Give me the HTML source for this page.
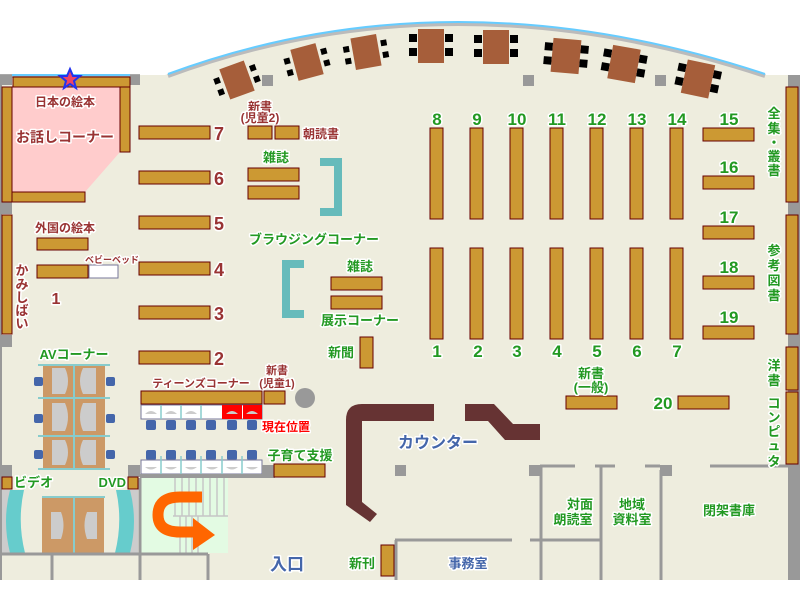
<!DOCTYPE html>
<html><head><meta charset="utf-8"><style>
html,body{margin:0;padding:0;background:#fff;}
svg{display:block;}
text{font-family:"Liberation Sans","Noto Sans CJK JP",sans-serif;font-weight:bold;paint-order:stroke;stroke:#fff;stroke-width:3px;stroke-linejoin:round;}
.r{fill:#993333;font-size:12px;}
.rn{fill:#993333;font-size:18px;}
.g{fill:#229922;font-size:13px;}
.gn{fill:#229922;font-size:17px;}
.b{fill:#4466aa;}
.sh{fill:#cc9933;stroke:#660000;stroke-width:1;}
.w{fill:#999;}
.wl{stroke:#999;stroke-width:3;fill:none;}
</style></head><body>
<svg width="800" height="600" viewBox="0 0 800 600" xmlns="http://www.w3.org/2000/svg">
<path d="M0,75 L165,75 Q450,-30 765,75 L800,75 L800,580 L0,580 Z" fill="#eeedde"/>
<path d="M168,76 Q450,-28 765,76" fill="none" stroke="#bbb" stroke-width="4"/>
<path d="M168,74 Q450,-30 765,74" fill="none" stroke="#66ccff" stroke-width="2"/>
<rect x="0" y="74" width="140" height="4" fill="#aaa"/>
<rect x="12" y="74" width="118" height="2" fill="#66ccff"/>
<rect x="0" y="75" width="12" height="10" class="w"/>
<rect x="130" y="75" width="10" height="10" class="w"/>
<rect x="0" y="85" width="2" height="495" class="w"/>
<rect x="0" y="202" width="12" height="12" class="w"/>
<rect x="0" y="335" width="12" height="12" class="w"/>
<rect x="788" y="75" width="12" height="505" class="w"/>
<rect x="262" y="75" width="11" height="11" class="w"/>
<rect x="523" y="75" width="11" height="11" class="w"/>
<rect x="655" y="75" width="11" height="11" class="w"/>
<g fill="#a65e3a">
<g transform="translate(237,80) rotate(-20)"><rect x="-22" y="-9" width="6" height="6" fill="#000"/><rect x="-22" y="3" width="6" height="6" fill="#000"/><rect x="16" y="-9" width="6" height="6" fill="#000"/><rect x="16" y="3" width="6" height="6" fill="#000"/><rect x="-13" y="-16" width="26" height="32"/></g>
<g transform="translate(307,62) rotate(-15)"><rect x="-22" y="-9" width="6" height="6" fill="#000"/><rect x="-22" y="3" width="6" height="6" fill="#000"/><rect x="16" y="-9" width="6" height="6" fill="#000"/><rect x="16" y="3" width="6" height="6" fill="#000"/><rect x="-13" y="-16" width="26" height="32"/></g>
<g transform="translate(366,52) rotate(-10)"><rect x="-22" y="-9" width="6" height="6" fill="#000"/><rect x="-22" y="3" width="6" height="6" fill="#000"/><rect x="16" y="-9" width="6" height="6" fill="#000"/><rect x="16" y="3" width="6" height="6" fill="#000"/><rect x="-13" y="-16" width="26" height="32"/></g>
<g transform="translate(431,46)"><rect x="-22" y="-12" width="8" height="8" fill="#000"/><rect x="-22" y="2" width="8" height="8" fill="#000"/><rect x="14" y="-12" width="8" height="8" fill="#000"/><rect x="14" y="2" width="8" height="8" fill="#000"/><rect x="-13" y="-17" width="26" height="34"/></g>
<g transform="translate(496,47)"><rect x="-22" y="-12" width="8" height="8" fill="#000"/><rect x="-22" y="2" width="8" height="8" fill="#000"/><rect x="14" y="-12" width="8" height="8" fill="#000"/><rect x="14" y="2" width="8" height="8" fill="#000"/><rect x="-13" y="-17" width="26" height="34"/></g>
<g transform="translate(566,56) rotate(5)"><rect x="-22" y="-12" width="8" height="8" fill="#000"/><rect x="-22" y="2" width="8" height="8" fill="#000"/><rect x="14" y="-12" width="8" height="8" fill="#000"/><rect x="14" y="2" width="8" height="8" fill="#000"/><rect x="-14" y="-17" width="28" height="34"/></g>
<g transform="translate(624,64) rotate(10)"><rect x="-22" y="-12" width="8" height="8" fill="#000"/><rect x="-22" y="2" width="8" height="8" fill="#000"/><rect x="14" y="-12" width="8" height="8" fill="#000"/><rect x="14" y="2" width="8" height="8" fill="#000"/><rect x="-14" y="-17" width="28" height="34"/></g>
<g transform="translate(698,79) rotate(12)"><rect x="-22" y="-12" width="8" height="8" fill="#000"/><rect x="-22" y="2" width="8" height="8" fill="#000"/><rect x="14" y="-12" width="8" height="8" fill="#000"/><rect x="14" y="2" width="8" height="8" fill="#000"/><rect x="-14" y="-17" width="28" height="34"/></g>
</g>
<path d="M12,86 L120,86 L120,152 L85,192 L12,192 Z" fill="#ffcccc"/>
<rect x="13" y="77" width="117" height="10" class="sh"/>
<rect x="120" y="87" width="10" height="65" class="sh"/>
<rect x="2" y="87" width="10" height="115" class="sh"/>
<rect x="12" y="192" width="73" height="10" class="sh"/>
<polygon points="70,69 73,76 80,76 74,81 76,88 70,84 64,88 66,81 60,76 67,76" fill="#ee4466" stroke="#2233ee" stroke-width="2"/>
<text x="65" y="106" class="r" text-anchor="middle">日本の絵本</text>
<text x="65" y="142" class="r" text-anchor="middle" style="font-size:14px">お話しコーナー</text>
<rect x="139" y="126" width="71" height="13" class="sh"/><text x="214" y="140" class="rn">7</text>
<rect x="139" y="171" width="71" height="13" class="sh"/><text x="214" y="185" class="rn">6</text>
<rect x="139" y="216" width="71" height="13" class="sh"/><text x="214" y="230" class="rn">5</text>
<rect x="139" y="262" width="71" height="13" class="sh"/><text x="214" y="276" class="rn">4</text>
<rect x="139" y="306" width="71" height="13" class="sh"/><text x="214" y="320" class="rn">3</text>
<rect x="139" y="351" width="71" height="13" class="sh"/><text x="214" y="365" class="rn">2</text>
<text x="260" y="111" class="r" text-anchor="middle">新書</text>
<text x="260" y="122" class="r" text-anchor="middle">(児童2)</text>
<rect x="248" y="126" width="24" height="13" class="sh"/><rect x="275" y="126" width="24" height="13" class="sh"/>
<text x="303" y="138" class="r">朝読書</text>
<text x="276" y="162" class="g" text-anchor="middle">雑誌</text>
<rect x="248" y="168" width="51" height="13" class="sh"/><rect x="248" y="186" width="51" height="13" class="sh"/>
<path d="M320,162 L338,162 L338,212 L320,212" fill="none" stroke="#66bbbb" stroke-width="8"/>
<text x="314" y="244" class="g" text-anchor="middle">ブラウジングコーナー</text>
<path d="M304,264 L286,264 L286,314 L304,314" fill="none" stroke="#66bbbb" stroke-width="8"/>
<text x="360" y="271" class="g" text-anchor="middle">雑誌</text>
<rect x="331" y="277" width="51" height="13" class="sh"/><rect x="331" y="296" width="51" height="13" class="sh"/>
<text x="360" y="325" class="g" text-anchor="middle">展示コーナー</text>
<text x="341" y="357" class="g" text-anchor="middle">新聞</text>
<rect x="360" y="337" width="13" height="31" class="sh"/>
<text x="65" y="232" class="r" text-anchor="middle">外国の絵本</text>
<rect x="37" y="238" width="51" height="12" class="sh"/>
<rect x="37" y="265" width="51" height="13" class="sh"/>
<rect x="89" y="265" width="29" height="13" fill="#fff" stroke="#777799" stroke-width="1"/>
<text x="112" y="263" class="r" text-anchor="middle" style="font-size:9px">ベビーベッド</text>
<rect x="2" y="215" width="10" height="119" class="sh"/>
<text class="r" style="font-size:13px" text-anchor="middle"><tspan x="22" y="275">か</tspan><tspan x="22" y="289">み</tspan><tspan x="22" y="302">し</tspan><tspan x="22" y="315">ば</tspan><tspan x="22" y="328">い</tspan></text>
<text x="56" y="304" class="rn" style="font-size:16px" text-anchor="middle">1</text>
<text x="74" y="359" class="g" text-anchor="middle">AVコーナー</text>
<rect x="43" y="365" width="62" height="104" fill="#cc9966"/>
<g stroke="#88cccc" stroke-width="2"><line x1="38" y1="365" x2="110" y2="365"/><line x1="38" y1="398" x2="110" y2="398"/><line x1="38" y1="436" x2="110" y2="436"/><line x1="38" y1="469" x2="110" y2="469"/><line x1="74" y1="365" x2="74" y2="469"/></g>
<g fill="#cccccc">
<path d="M52,368 L65,368 Q71,381 65,394 L52,394Z"/><path d="M96,368 L83,368 Q77,381 83,394 L96,394Z"/>
<path d="M52,403 L65,403 Q71,417 65,431 L52,431Z"/><path d="M96,403 L83,403 Q77,417 83,431 L96,431Z"/>
<path d="M52,440 L65,440 Q71,452 65,465 L52,465Z"/><path d="M96,440 L83,440 Q77,452 83,465 L96,465Z"/>
</g>
<g fill="#4466aa"><rect x="34" y="377" width="9" height="9" rx="2"/><rect x="106" y="377" width="9" height="9" rx="2"/><rect x="34" y="414" width="9" height="9" rx="2"/><rect x="106" y="414" width="9" height="9" rx="2"/><rect x="34" y="450" width="9" height="9" rx="2"/><rect x="106" y="450" width="9" height="9" rx="2"/></g>
<text x="201" y="387" class="r" text-anchor="middle" style="font-size:11px">ティーンズコーナー</text>
<text x="277" y="374" class="r" text-anchor="middle" style="font-size:11px">新書</text>
<text x="277" y="387" class="r" text-anchor="middle" style="font-size:11px">(児童1)</text>
<rect x="141" y="391" width="121" height="13" class="sh"/>
<rect x="264" y="391" width="21" height="13" class="sh"/>
<circle cx="305" cy="398" r="10" fill="#999"/>
<rect x="141" y="405" width="121" height="14" fill="#fff" stroke="#777799" stroke-width="1"/>
<rect x="222" y="405" width="20" height="14" fill="#ff0000"/><rect x="243" y="405" width="19" height="14" fill="#ff0000"/>
<g fill="#cccccc"><path d="M145,414 Q151,408 157,414Z"/><path d="M165,414 Q171,408 177,414Z"/><path d="M185,414 Q191,408 197,414Z"/><path d="M226,414 Q232,408 238,414Z"/><path d="M246,414 Q252,408 258,414Z"/></g>
<g stroke="#88cccc" stroke-width="1.5"><line x1="161" y1="405" x2="161" y2="419"/><line x1="181" y1="405" x2="181" y2="419"/><line x1="201" y1="405" x2="201" y2="419"/></g>
<g fill="#4466aa"><rect x="146" y="420" width="10" height="10" rx="2"/><rect x="166" y="420" width="10" height="10" rx="2"/><rect x="186" y="420" width="10" height="10" rx="2"/><rect x="206" y="420" width="10" height="10" rx="2"/><rect x="227" y="420" width="10" height="10" rx="2"/><rect x="247" y="420" width="10" height="10" rx="2"/>
<rect x="146" y="450" width="10" height="10" rx="2"/><rect x="166" y="450" width="10" height="10" rx="2"/><rect x="186" y="450" width="10" height="10" rx="2"/><rect x="206" y="450" width="10" height="10" rx="2"/><rect x="227" y="450" width="10" height="10" rx="2"/><rect x="247" y="450" width="10" height="10" rx="2"/></g>
<text x="262" y="431" style="fill:#ff0000;font-size:12px">現在位置</text>
<rect x="141" y="460" width="121" height="14" fill="#fff" stroke="#777799" stroke-width="1"/>
<g stroke="#88cccc" stroke-width="1.5"><line x1="161" y1="456" x2="161" y2="474"/><line x1="181" y1="456" x2="181" y2="474"/><line x1="201" y1="456" x2="201" y2="474"/><line x1="222" y1="456" x2="222" y2="474"/><line x1="242" y1="456" x2="242" y2="474"/></g>
<g fill="#cccccc"><path d="M145,467 Q151,472 157,467Z"/><path d="M165,467 Q171,472 177,467Z"/><path d="M185,467 Q191,472 197,467Z"/><path d="M206,467 Q212,472 218,467Z"/><path d="M226,467 Q232,472 238,467Z"/><path d="M246,467 Q252,472 258,467Z"/></g>
<rect x="140" y="474" width="135" height="4" class="w"/>
<rect x="262" y="465" width="12" height="12" class="w"/>
<text x="300" y="460" class="g" text-anchor="middle">子育て支援</text>
<rect x="274" y="464" width="51" height="13" class="sh"/>
<rect x="140" y="478" width="88" height="75" fill="#e3fbe3"/>
<g stroke="#c6c6c6" stroke-width="1.5"><line x1="175" y1="478" x2="175" y2="516"/><line x1="182" y1="478" x2="182" y2="516"/><line x1="189" y1="478" x2="189" y2="516"/><line x1="196" y1="478" x2="196" y2="516"/><line x1="203" y1="478" x2="203" y2="516"/><line x1="210" y1="478" x2="210" y2="516"/><line x1="217" y1="478" x2="217" y2="516"/><line x1="224" y1="478" x2="224" y2="516"/><line x1="173" y1="516" x2="228" y2="516"/>
<line x1="180" y1="516" x2="180" y2="553"/><line x1="186" y1="516" x2="186" y2="553"/><line x1="192" y1="516" x2="192" y2="553"/><line x1="198" y1="516" x2="198" y2="553"/></g>
<path d="M202,497 L180,497 Q158,497 158,515 Q158,532 180,532 L196,532" fill="none" stroke="#ff6600" stroke-width="11"/>
<polygon points="193,518 215,535 193,550" fill="#ff6600"/>
<rect x="0" y="465" width="12" height="12" class="w"/>
<rect x="128" y="465" width="12" height="12" class="w"/>
<rect x="2" y="477" width="10" height="12" class="sh"/>
<rect x="128" y="477" width="10" height="12" class="sh"/>
<text x="14" y="487" class="g">ビデオ</text>
<text x="126" y="487" class="g" text-anchor="end">DVD</text>
<rect x="2" y="490" width="12" height="63" fill="#cccccc"/>
<rect x="126" y="490" width="12" height="63" fill="#cccccc"/>
<path d="M10,490 Q2,521 10,553 L25,553 Q17,521 24,490Z" fill="#66cccc"/>
<path d="M130,490 Q138,521 130,553 L115,553 Q123,521 116,490Z" fill="#66cccc"/>
<rect x="42" y="498" width="62" height="55" fill="#cc9966"/>
<line x1="42" y1="497" x2="105" y2="497" stroke="#88cccc" stroke-width="2"/>
<line x1="74" y1="497" x2="74" y2="553" stroke="#88cccc" stroke-width="2"/>
<path d="M51,512 L61,512 Q66,525 61,539 L51,539Z" fill="#ccc"/><path d="M97,512 L87,512 Q82,525 87,539 L97,539Z" fill="#ccc"/>
<g class="wl"><line x1="0" y1="554" x2="208" y2="554"/><line x1="52" y1="554" x2="52" y2="580"/><line x1="140" y1="478" x2="140" y2="580"/><line x1="208" y1="554" x2="208" y2="580"/></g>
<text x="287" y="570" class="b" style="font-size:17px" text-anchor="middle">入口</text>
<text x="362" y="568" class="g" text-anchor="middle">新刊</text>
<rect x="381" y="545" width="13" height="31" class="sh"/>
<path d="M434,404 L362,404 Q346,404 346,420 L346,505 L370,522 L377,514 L362,502 L362,421 L434,421Z" fill="#663333"/>
<path d="M465,404 L494,404 L513,424 L540,424 L540,440 L505,440 L488,421 L465,421Z" fill="#663333"/>
<text x="438" y="448" class="b" style="font-size:16px" text-anchor="middle">カウンター</text>
<rect x="395" y="465" width="11" height="11" class="w"/>
<rect x="529" y="465" width="11" height="11" class="w"/>
<rect x="660" y="465" width="12" height="11" class="w"/>
<g class="wl" stroke-width="2.5"><line x1="540" y1="466" x2="575" y2="466"/><line x1="595" y1="466" x2="615" y2="466"/><line x1="645" y1="466" x2="660" y2="466"/><line x1="710" y1="466" x2="790" y2="466"/>
<line x1="541" y1="466" x2="541" y2="580"/><line x1="601" y1="466" x2="601" y2="580"/><line x1="661" y1="470" x2="661" y2="580"/>
<line x1="395" y1="540" x2="512" y2="540"/><line x1="530" y1="540" x2="601" y2="540"/><line x1="396" y1="540" x2="396" y2="580"/></g>
<text x="580" y="509" class="g" text-anchor="middle">対面</text><text x="573" y="524" class="g" text-anchor="middle">朗読室</text>
<text x="632" y="509" class="g" text-anchor="middle">地域</text><text x="632" y="524" class="g" text-anchor="middle">資料室</text>
<text x="729" y="515" class="g" text-anchor="middle">閉架書庫</text>
<text x="468" y="568" class="b" style="font-size:13px" text-anchor="middle">事務室</text>
<g class="sh">
<rect x="430" y="128" width="13" height="91"/><rect x="470" y="128" width="13" height="91"/><rect x="510" y="128" width="13" height="91"/><rect x="550" y="128" width="13" height="91"/><rect x="590" y="128" width="13" height="91"/><rect x="630" y="128" width="13" height="91"/><rect x="670" y="128" width="13" height="91"/>
<rect x="430" y="248" width="13" height="91"/><rect x="470" y="248" width="13" height="91"/><rect x="510" y="248" width="13" height="91"/><rect x="550" y="248" width="13" height="91"/><rect x="590" y="248" width="13" height="91"/><rect x="630" y="248" width="13" height="91"/><rect x="670" y="248" width="13" height="91"/>
<rect x="703" y="128" width="51" height="13"/><rect x="703" y="176" width="51" height="13"/><rect x="703" y="226" width="51" height="13"/><rect x="703" y="276" width="51" height="13"/><rect x="703" y="326" width="51" height="13"/>
<rect x="786" y="87" width="12" height="115"/><rect x="786" y="215" width="12" height="119"/><rect x="786" y="347" width="12" height="43"/><rect x="786" y="392" width="12" height="72"/>
<rect x="566" y="396" width="51" height="13"/><rect x="678" y="396" width="51" height="13"/>
</g>
<g class="gn" text-anchor="middle">
<text x="437" y="125">8</text><text x="477" y="125">9</text><text x="517" y="125">10</text><text x="557" y="125">11</text><text x="597" y="125">12</text><text x="637" y="125">13</text><text x="677" y="125">14</text>
<text x="437" y="357">1</text><text x="478" y="357">2</text><text x="517" y="357">3</text><text x="557" y="357">4</text><text x="597" y="357">5</text><text x="637" y="357">6</text><text x="677" y="357">7</text>
<text x="729" y="125">15</text><text x="729" y="173">16</text><text x="729" y="223">17</text><text x="729" y="273">18</text><text x="729" y="323">19</text>
<text x="663" y="409">20</text>
</g>
<text x="591" y="378" class="g" text-anchor="middle">新書</text>
<text x="591" y="392" class="g" text-anchor="middle">(一般)</text>
<text class="g" text-anchor="middle"><tspan x="774" y="118">全</tspan><tspan x="774" y="133">集</tspan><tspan x="774" y="147">・</tspan><tspan x="774" y="161">叢</tspan><tspan x="774" y="175">書</tspan></text>
<text class="g" text-anchor="middle"><tspan x="774" y="255">参</tspan><tspan x="774" y="270">考</tspan><tspan x="774" y="285">図</tspan><tspan x="774" y="300">書</tspan></text>
<text class="g" text-anchor="middle"><tspan x="774" y="370">洋</tspan><tspan x="774" y="385">書</tspan></text>
<text class="g" text-anchor="middle"><tspan x="774" y="408">コ</tspan><tspan x="774" y="422">ン</tspan><tspan x="774" y="436">ピ</tspan><tspan x="774" y="450">ュ</tspan><tspan x="774" y="463">ー</tspan></text>
<text x="774" y="466" class="g" text-anchor="middle">タ</text>
<rect x="0" y="580" width="800" height="20" fill="#fff"/>
</svg>
</body></html>
